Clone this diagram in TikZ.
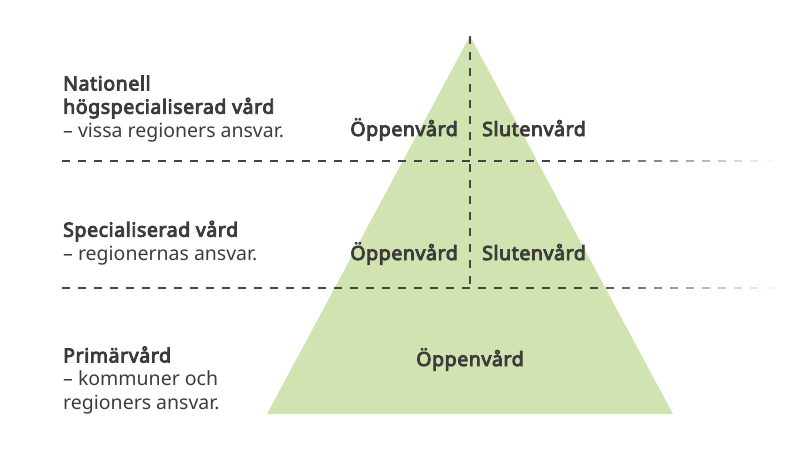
\documentclass[tikz,border=0pt]{standalone}
\usepackage{fontspec}
\setmainfont{Noto Sans}
\newfontfamily\bfont{Noto Sans}[FakeBold=4.5,LetterSpace=3]
\definecolor{pyr}{HTML}{D0E3B0}
\definecolor{txt}{HTML}{3C3C3C}
\definecolor{dsh}{HTML}{444444}
\newcommand\bt[1]{{\bfont #1}}
\begin{document}
\begin{tikzpicture}[x=1pt,y=-1pt,
  lbl/.style={anchor=base west,align=left,text=txt,font=\fontsize{19.5}{23.3}\selectfont,inner sep=0pt},
  care/.style={text=txt,font=\fontsize{19.5}{22}\selectfont\bfont,inner sep=0pt},
  dline/.style={draw=dsh,line width=1.8pt,dash pattern=on 8pt off 8pt}]
\useasboundingbox (0,0) rectangle (800,450);
\coordinate (apex) at (470,36);
\coordinate (bl) at (267,414);
\coordinate (br) at (673,414);
\coordinate (vb) at (470,288);
\fill[pyr] (apex) -- (br) -- (bl) -- cycle;
% horizontal fading dashed lines
\foreach \yy in {161,288}{
  \foreach \i in {0,...,44}{
    \pgfmathsetmacro\xa{62+16*\i}
    \pgfmathsetmacro\op{min(1,max(0,(775-\xa)/195))}
    \draw[dsh,line width=1.8pt,opacity=\op] (\xa,\yy) -- ++(8,0);
  }
}
\draw[dline] (apex) -- (vb);
% left labels
\node[lbl] (n1) at (63,137) {\bt{Nationell}\\\bt{högspecialiserad vård}\\– vissa regioners ansvar.};
\node[lbl] (n2) at (63,260) {\bt{Specialiserad vård}\\– regionernas ansvar.};
\node[lbl] (n3) at (63,409) {\bt{Primärvård}\\– kommuner och\\regioners ansvar.};
% pyramid labels
\node[care,anchor=base east] (o1) at (458,136) {Öppenvård};
\node[care,anchor=base west] (s1) at (482,136) {Slutenvård};
\node[care,anchor=base east] (o2) at (458,260) {Öppenvård};
\node[care,anchor=base west] (s2) at (482,260) {Slutenvård};
\node[care,anchor=base] (o3) at (470,366) {Öppenvård};
\end{tikzpicture}
\end{document}
